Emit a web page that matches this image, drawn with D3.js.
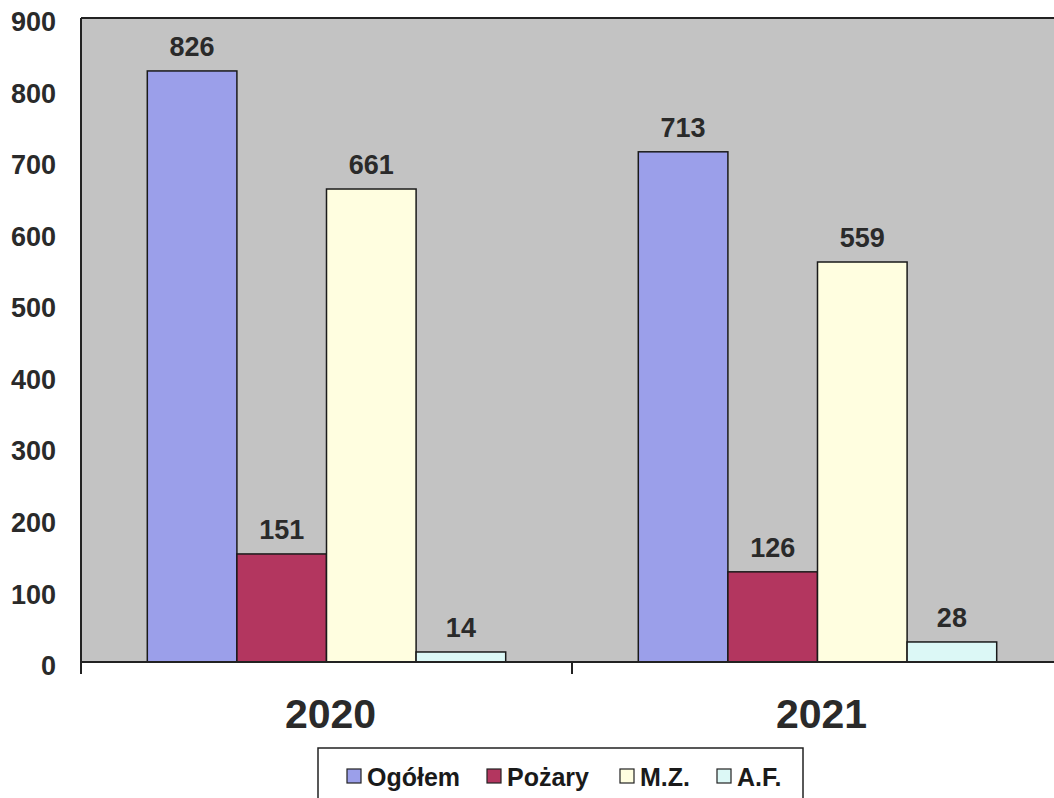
<!DOCTYPE html>
<html><head><meta charset="utf-8">
<script src="https://cdn.jsdelivr.net/npm/d3@7/dist/d3.min.js"></script>
<style>body{margin:0;background:#fff;}svg{display:block;font-family:"Liberation Sans",Arial,sans-serif;}</style>
</head><body>
<svg id="c" width="1054" height="798"></svg>
<script>
const categories = ["2020", "2021"];
const seriesNames = ["Ogółem", "Pożary", "M.Z.", "A.F."];
const ogolem = [826, 713];
const pozary = [151, 126];
const mz = [661, 559];
const af = [14, 28];
const yTicks = [0, 100, 200, 300, 400, 500, 600, 700, 800, 900];
const colors = ["#9b9fea", "#b3365f", "#fffee0", "#dcf8f6"];

const seriesValues = [ogolem, pozary, mz, af];
const svg = d3.select("#c");
const pLeft = 81, pTop = 18, pRight = 1063, pBottom = 662;

const y = d3.scaleLinear().domain([0, 900]).range([pBottom, pTop]);
const x0 = d3.scaleBand().domain(categories).range([pLeft, pRight]);
const x1 = d3.scaleBand().domain(seriesNames).range([0, x0.bandwidth()]).paddingOuter(0.74);

// plot area
svg.append("rect").attr("x", pLeft).attr("y", pTop).attr("width", 1054 - pLeft).attr("height", pBottom - pTop)
  .attr("fill", "#c3c3c3");
svg.append("line").attr("x1", pLeft).attr("x2", 1054).attr("y1", pTop).attr("y2", pTop).attr("stroke", "#222").attr("stroke-width", 2);

// bars
const data = [];
categories.forEach((c, i) => seriesNames.forEach((s, j) => data.push({c, s, j, v: seriesValues[j][i]})));
svg.append("g").selectAll("rect").data(data).join("rect")
  .attr("x", d => x0(d.c) + x1(d.s))
  .attr("y", d => y(d.v))
  .attr("width", x1.bandwidth())
  .attr("height", d => pBottom - y(d.v))
  .attr("fill", d => colors[d.j])
  .attr("stroke", "#1a1a1a").attr("stroke-width", 1.5);

svg.append("g").selectAll("text").data(data).join("text")
  .attr("x", d => x0(d.c) + x1(d.s) + x1.bandwidth() / 2)
  .attr("y", d => y(d.v) - 15)
  .attr("text-anchor", "middle")
  .attr("font-size", 27).attr("font-weight", "bold").attr("fill", "#2a2a2a")
  .text(d => d.v);

// y axis
const yAxis = d3.axisLeft(y).tickValues(yTicks).tickSize(0).tickPadding(25);
const gy = svg.append("g").attr("transform", `translate(${pLeft},4)`).call(yAxis);
gy.select(".domain").remove();
gy.selectAll("text").attr("font-size", 27).attr("font-weight", "bold").attr("fill", "#2a2a2a")
  .attr("font-family", "Liberation Sans, Arial, sans-serif");
svg.append("line").attr("x1", pLeft).attr("x2", pLeft).attr("y1", pTop).attr("y2", pBottom + 12).attr("stroke", "#222").attr("stroke-width", 2);

// x axis
svg.append("line").attr("x1", pLeft).attr("x2", 1054).attr("y1", pBottom).attr("y2", pBottom).attr("stroke", "#222").attr("stroke-width", 2);
categories.slice(1).forEach(c => {
  svg.append("line").attr("x1", x0(c)).attr("x2", x0(c)).attr("y1", pBottom).attr("y2", pBottom + 12).attr("stroke", "#222").attr("stroke-width", 2);
});
svg.append("g").selectAll("text").data(categories).join("text")
  .attr("x", c => x0(c) + x0.bandwidth() / 2 + 4)
  .attr("y", 728)
  .attr("text-anchor", "middle")
  .attr("font-size", 41).attr("font-weight", "bold").attr("fill", "#2a2a2a")
  .text(c => c);

// legend
const lg = svg.append("g");
lg.append("rect").attr("x", 318).attr("y", 748).attr("width", 485).attr("height", 60)
  .attr("fill", "#fff").attr("stroke", "#222").attr("stroke-width", 1.5);
const legendX = [347, 487, 620, 717];
seriesNames.forEach((s, j) => {
  lg.append("rect").attr("x", legendX[j]).attr("y", 769).attr("width", 14).attr("height", 14)
    .attr("fill", colors[j]).attr("stroke", "#222").attr("stroke-width", 1.2);
  lg.append("text").attr("x", legendX[j] + 20).attr("y", 786)
    .attr("font-size", 25).attr("font-weight", "bold").attr("fill", "#1a1a1a").text(s);
});
</script>
</body></html>
